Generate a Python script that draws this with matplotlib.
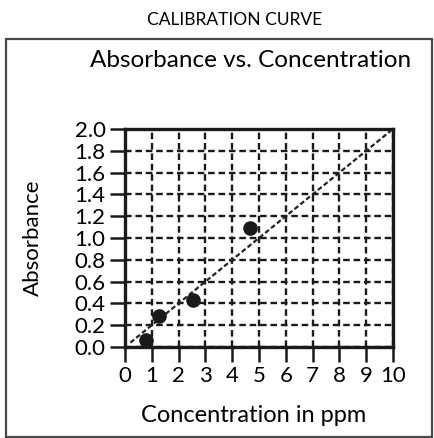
import numpy as np
import matplotlib
matplotlib.use("Agg")
import matplotlib.pyplot as plt
from matplotlib.patches import Rectangle

# data
conc_ppm = [0.8, 1.28, 2.55, 4.68]
absorbance = [0.06, 0.28, 0.43, 1.09]
fit_x = [0.2, 10.0]
fit_slope = 0.2
x_ticks = list(range(0, 11))
y_ticks = [round(v * 0.2, 1) for v in range(0, 11)]

plt.rcParams['font.family'] = ['Lato', 'DejaVu Sans']

fig = plt.figure(figsize=(4.34, 4.38), dpi=100)
ax = fig.add_axes([0.288, 0.2078, 0.6175, 0.4977])

# outer frame
fig.patches.append(Rectangle((0.014, 0.003), 0.982, 0.909, transform=fig.transFigure,
                             fill=False, edgecolor='#4a4a4a', linewidth=1.6))

fit_y = [fit_slope * v for v in fit_x]
ax.plot(fit_x, fit_y, color='#222222', linestyle=(0, (2.2, 1.2)), linewidth=1.6, zorder=3)
ax.plot(conc_ppm, absorbance, 'o', color='#1a1a1a', markersize=9.5, zorder=4)

ax.set_xlim(0, 10)
ax.set_ylim(0, 2.0)
ax.set_xticks(x_ticks)
ax.set_yticks(y_ticks)
ax.set_yticklabels(['%.1f' % v for v in y_ticks])
ax.grid(True, color='#1a1a1a', linestyle=(0, (2.8, 1.6)), linewidth=1.7)
ax.set_axisbelow(True)
for s in ax.spines.values():
    s.set_linewidth(2.4)
    s.set_color('#1a1a1a')
ax.tick_params(axis='both', direction='out', length=11, width=1.8, color='#1a1a1a',
               labelsize=16, pad=3)

fig.text(0.585, 0.052, 'Concentration in ppm', fontsize=17, ha='center', va='center')
fig.text(0.076, 0.457, 'Absorbance', fontsize=16, rotation=90, ha='center', va='center')
fig.text(0.578, 0.863, 'Absorbance vs. Concentration', fontsize=17.5, ha='center', va='center')
fig.text(0.541, 0.955, 'CALIBRATION CURVE', fontsize=12.5, ha='center', va='center')

fig.savefig('out.png', dpi=100)
